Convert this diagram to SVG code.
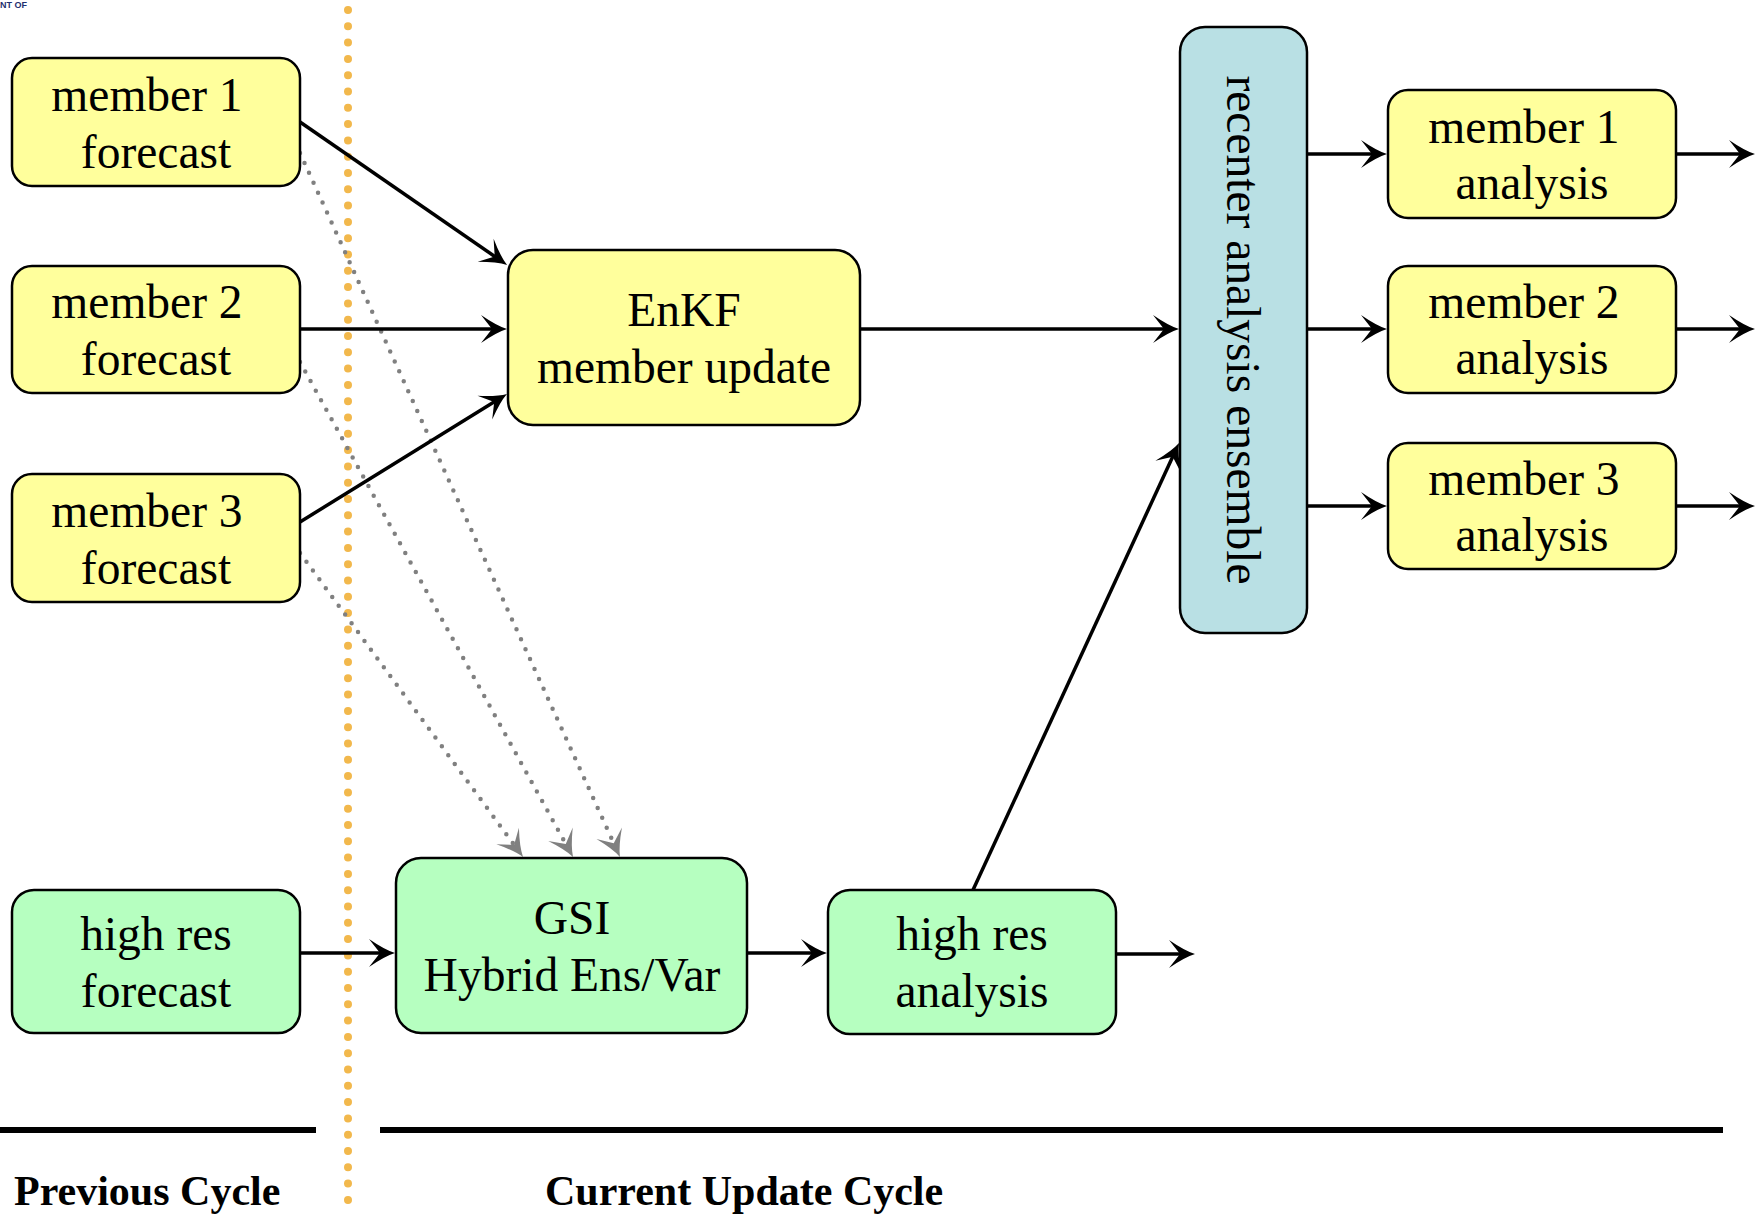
<svg xmlns="http://www.w3.org/2000/svg" width="1762" height="1214" viewBox="0 0 1762 1214">
<style>
  .box { stroke: #000; stroke-width: 2.5; }
  .yel { fill: #ffff9c; }
  .grn { fill: #b6ffc0; }
  .blu { fill: #b9e0e4; }
  .lbl { font-family: "Liberation Serif", "Times New Roman", serif; font-size: 47.5px; fill: #000; text-anchor: middle; }
  .foot { font-family: "Liberation Serif", "Times New Roman", serif; font-size: 42px; font-weight: bold; fill: #000; }
  .con { stroke: #000; stroke-width: 3.5; fill: none; }
  .dot { stroke: #808080; stroke-width: 4.5; stroke-dasharray: 0 10.9; stroke-linecap: round; fill: none; }
</style>
<defs>
  <marker id="ah" markerUnits="userSpaceOnUse" markerWidth="40" markerHeight="40" refX="0" refY="0" viewBox="-20 -20 40 40" orient="auto" overflow="visible">
    <path d="M11,0 Q1,-3 -15,-14 L-4,0 L-15,14 Q1,3 11,0 Z" fill="#000"/>
  </marker>
  <marker id="ahg" markerUnits="userSpaceOnUse" markerWidth="40" markerHeight="40" refX="0" refY="0" viewBox="-20 -20 40 40" orient="auto" overflow="visible">
    <path d="M11,0 Q1,-3 -15,-14 L-4,0 L-15,14 Q1,3 11,0 Z" fill="#808080"/>
  </marker>
</defs>
<rect x="0" y="0" width="1762" height="1214" fill="#fff"/>

<text x="0" y="8" font-family="Liberation Sans, Arial, sans-serif" font-size="9" font-weight="bold" fill="#1f2f6f">NT OF</text>

<!-- separator -->
<line x1="348" y1="10" x2="348" y2="1214" stroke="#f2b84c" stroke-width="8" stroke-dasharray="0 16.3" stroke-linecap="round"/>

<g id="connectors">
  <line class="dot" x1="300" y1="153" x2="615.4" y2="846.9" marker-end="url(#ahg)"/>
  <line class="dot" x1="300" y1="362" x2="567.7" y2="847.4" marker-end="url(#ahg)"/>
  <line class="dot" x1="300" y1="553" x2="516.5" y2="848.1" marker-end="url(#ahg)"/>

  <line class="con" x1="300" y1="122" x2="498" y2="258.7" marker-end="url(#ah)"/>
  <line class="con" x1="300" y1="329" x2="496" y2="329" marker-end="url(#ah)"/>
  <line class="con" x1="300" y1="522" x2="497.6" y2="399.8" marker-end="url(#ah)"/>
  <line class="con" x1="860" y1="329" x2="1168" y2="329" marker-end="url(#ah)"/>
  <line class="con" x1="300" y1="953" x2="384" y2="953" marker-end="url(#ah)"/>
  <line class="con" x1="747" y1="953" x2="816" y2="953" marker-end="url(#ah)"/>
  <line class="con" x1="1116" y1="954" x2="1184" y2="954" marker-end="url(#ah)"/>
  <line class="con" x1="973" y1="890" x2="1174.4" y2="453" marker-end="url(#ah)"/>
  <line class="con" x1="1307" y1="154" x2="1376" y2="154" marker-end="url(#ah)"/>
  <line class="con" x1="1307" y1="329" x2="1376" y2="329" marker-end="url(#ah)"/>
  <line class="con" x1="1307" y1="506" x2="1376" y2="506" marker-end="url(#ah)"/>
  <line class="con" x1="1676" y1="154" x2="1744" y2="154" marker-end="url(#ah)"/>
  <line class="con" x1="1676" y1="329" x2="1744" y2="329" marker-end="url(#ah)"/>
  <line class="con" x1="1676" y1="506" x2="1744" y2="506" marker-end="url(#ah)"/>
</g>

<g id="m1f">
  <rect class="box yel" x="12" y="58" width="288" height="128" rx="20"/>
  <text class="lbl" x="147" y="111">member 1</text>
  <text class="lbl" x="156" y="168">forecast</text>
</g>
<g id="m2f">
  <rect class="box yel" x="12" y="266" width="288" height="127" rx="20"/>
  <text class="lbl" x="147" y="318">member 2</text>
  <text class="lbl" x="156" y="375">forecast</text>
</g>
<g id="m3f">
  <rect class="box yel" x="12" y="474" width="288" height="128" rx="20"/>
  <text class="lbl" x="147" y="527">member 3</text>
  <text class="lbl" x="156" y="584">forecast</text>
</g>
<g id="hrf">
  <rect class="box grn" x="12" y="890" width="288" height="143" rx="22"/>
  <text class="lbl" x="156" y="950">high res</text>
  <text class="lbl" x="156" y="1007">forecast</text>
</g>
<g id="enkf">
  <rect class="box yel" x="508" y="250" width="352" height="175" rx="25"/>
  <text class="lbl" x="684" y="326">EnKF</text>
  <text class="lbl" x="684" y="383">member update</text>
</g>
<g id="gsi">
  <rect class="box grn" x="396" y="858" width="351" height="175" rx="25"/>
  <text class="lbl" x="572" y="934">GSI</text>
  <text class="lbl" x="572" y="991">Hybrid Ens/Var</text>
</g>
<g id="hra">
  <rect class="box grn" x="828" y="890" width="288" height="144" rx="22"/>
  <text class="lbl" x="972" y="950">high res</text>
  <text class="lbl" x="972" y="1007">analysis</text>
</g>
<g id="recenter">
  <rect class="box blu" x="1180" y="27" width="127" height="606" rx="25"/>
  <text class="lbl" transform="translate(1227,330) rotate(90)" x="0" y="0">recenter analysis ensemble</text>
</g>
<g id="m1a">
  <rect class="box yel" x="1388" y="90" width="288" height="128" rx="20"/>
  <text class="lbl" x="1524" y="143">member 1</text>
  <text class="lbl" x="1532" y="199">analysis</text>
</g>
<g id="m2a">
  <rect class="box yel" x="1388" y="266" width="288" height="127" rx="20"/>
  <text class="lbl" x="1524" y="318">member 2</text>
  <text class="lbl" x="1532" y="374">analysis</text>
</g>
<g id="m3a">
  <rect class="box yel" x="1388" y="443" width="288" height="126" rx="20"/>
  <text class="lbl" x="1524" y="495">member 3</text>
  <text class="lbl" x="1532" y="551">analysis</text>
</g>

<g id="footer">
  <line x1="0" y1="1130" x2="316" y2="1130" stroke="#000" stroke-width="6"/>
  <line x1="380" y1="1130" x2="1723" y2="1130" stroke="#000" stroke-width="6"/>
  <text class="foot" x="14" y="1205">Previous Cycle</text>
  <text class="foot" x="545" y="1205">Current Update Cycle</text>
</g>
</svg>
